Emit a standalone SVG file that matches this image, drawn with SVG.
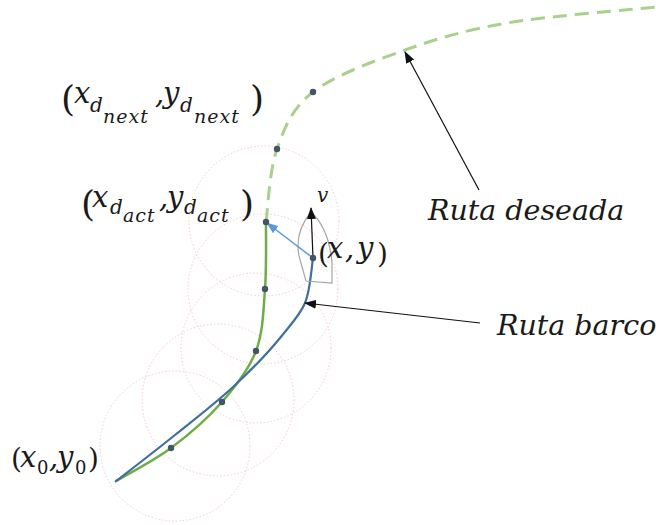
<svg xmlns="http://www.w3.org/2000/svg" width="656" height="525" viewBox="0 0 656 525">
<style>
.m{font-family:"DejaVu Serif",serif;font-style:italic;fill:#1a1a1a}
.p{font-family:"DejaVu Serif",serif;font-style:normal;font-weight:300;fill:#1a1a1a}
.circ{fill:none;stroke:#f4c4c4;stroke-width:0.9;stroke-dasharray:1.5 2}
.dot{fill:#44546a}
.lead{stroke:#111;stroke-width:1.2;fill:none}
</style>
<defs>
<marker id="ah" viewBox="0 0 12 9" refX="11" refY="4.5" markerWidth="12" markerHeight="9" markerUnits="userSpaceOnUse" orient="auto">
<path d="M0,0 L12,4.5 L0,9 z" fill="#111"/>
</marker>
<marker id="ahb" viewBox="0 0 12 9" refX="11" refY="4.5" markerWidth="12" markerHeight="9" markerUnits="userSpaceOnUse" orient="auto">
<path d="M0,0 L12,4.5 L0,9 z" fill="#5b9bd5"/>
</marker>
</defs>
<rect width="656" height="525" fill="#fff"/>
<g id="circles">
<circle class="circ" cx="175" cy="446" r="75"/>
<circle class="circ" cx="218" cy="400" r="76"/>
<circle class="circ" cx="256" cy="348" r="75"/>
<circle class="circ" cx="263" cy="289" r="75"/>
<circle class="circ" cx="264" cy="221" r="75"/>
</g>
<g id="connectors">
<path id="ruta-deseada-path" d="M266,222 C267.8,209.8 269.2,170.7 277,149 C284.8,127.3 291.7,108.5 313,92 C334.3,75.5 372.7,61.5 405,50 C437.3,38.5 465.2,30.2 507,23 C548.8,15.8 631.2,9.7 656,7" fill="none" stroke="#a9d18e" stroke-width="3" stroke-dasharray="14 8"/>
<path id="ruta-green" d="M116,481 C125.2,475.5 153.3,461.2 171,448 C188.7,434.8 207.8,418.2 222,402 C236.2,385.8 248.8,369.8 256,351 C263.2,332.2 263.3,310.5 265,289 C266.7,267.5 265.8,233.2 266,222" fill="none" stroke="#70ad47" stroke-width="2.5"/>
<path id="ruta-barco-path" d="M115,482 C125,474.2 155.3,450.8 175,435 C194.7,419.2 215.5,403.2 233,387 C250.5,370.8 267,354 280,338 C292,323 300,315 305,303 C310.5,289.7 311.7,265.5 313,258" fill="none" stroke="#3f6f9f" stroke-width="2.2"/>
<path id="boat" d="M311,212 C300,225 296,240 299,256 L306,281 L332,283 L332,263 C330,240 322,222 311,212 Z" fill="none" stroke="#a6a6a6" stroke-width="1.2"/>
<line x1="313" y1="258" x2="267" y2="223" stroke="#5b9bd5" stroke-width="1.5" marker-end="url(#ahb)"/>
<line x1="313" y1="258" x2="311" y2="208" class="lead" marker-end="url(#ah)"/>
<line x1="479" y1="190" x2="405" y2="52" class="lead" marker-end="url(#ah)"/>
<line x1="480" y1="323" x2="305" y2="303" class="lead" marker-end="url(#ah)"/>
</g>
<g id="dots">
<circle class="dot" cx="277" cy="149" r="3.2"/>
<circle class="dot" cx="313" cy="92" r="3.2"/>
<circle class="dot" cx="266" cy="222" r="3.2"/>
<circle class="dot" cx="265" cy="289" r="3.2"/>
<circle class="dot" cx="256" cy="351" r="3.2"/>
<circle class="dot" cx="222" cy="402" r="3.2"/>
<circle class="dot" cx="171" cy="448" r="3.2"/>
<circle class="dot" cx="313" cy="258" r="3.2"/>
</g>
<g id="label-next">
<text class="p" x="61" y="111" font-size="36">(</text>
<text class="m" x="74" y="103" font-size="29">x</text>
<text class="m" x="90" y="112" font-size="20">d</text>
<text class="m" x="103" y="123" font-size="19" letter-spacing="1">next</text>
<text class="m" x="155" y="103" font-size="29">,</text>
<text class="m" x="163" y="103" font-size="29">y</text>
<text class="m" x="180" y="112" font-size="20">d</text>
<text class="m" x="194" y="123" font-size="19" letter-spacing="1">next</text>
<text class="p" x="250" y="111" font-size="36">)</text>
</g>
<g id="label-act">
<text class="p" x="81" y="216" font-size="36">(</text>
<text class="m" x="92" y="207" font-size="29">x</text>
<text class="m" x="110" y="214" font-size="20">d</text>
<text class="m" x="123" y="222" font-size="19" letter-spacing="1">act</text>
<text class="m" x="159" y="207" font-size="29">,</text>
<text class="m" x="167" y="207" font-size="29">y</text>
<text class="m" x="184" y="214" font-size="20">d</text>
<text class="m" x="197" y="222" font-size="19" letter-spacing="1">act</text>
<text class="p" x="240" y="216" font-size="36">)</text>
</g>
<g id="label-xy">
<text class="p" x="318" y="263" font-size="28">(</text>
<text class="m" x="327" y="258" font-size="29">x</text>
<text class="m" x="345" y="258" font-size="29">,</text>
<text class="m" x="357" y="258" font-size="29">y</text>
<text class="p" x="377" y="263" font-size="28">)</text>
</g>
<g id="label-x0">
<text class="p" x="11" y="468" font-size="28">(</text>
<text class="m" x="20" y="467" font-size="29">x</text>
<text class="p" x="37" y="474" font-size="18">0</text>
<text class="m" x="49" y="467" font-size="29">,</text>
<text class="m" x="57" y="467" font-size="29">y</text>
<text class="p" x="75" y="474" font-size="18">0</text>
<text class="p" x="88" y="468" font-size="28">)</text>
</g>
<g id="label-v">
<text class="m" x="317" y="202" font-size="20">v</text>
</g>
<g id="label-ruta-deseada">
<text class="m" x="428" y="220" font-size="28.5">Ruta deseada</text>
</g>
<g id="label-ruta-barco">
<text class="m" x="497" y="335" font-size="28.5">Ruta barco</text>
</g>
</svg>
